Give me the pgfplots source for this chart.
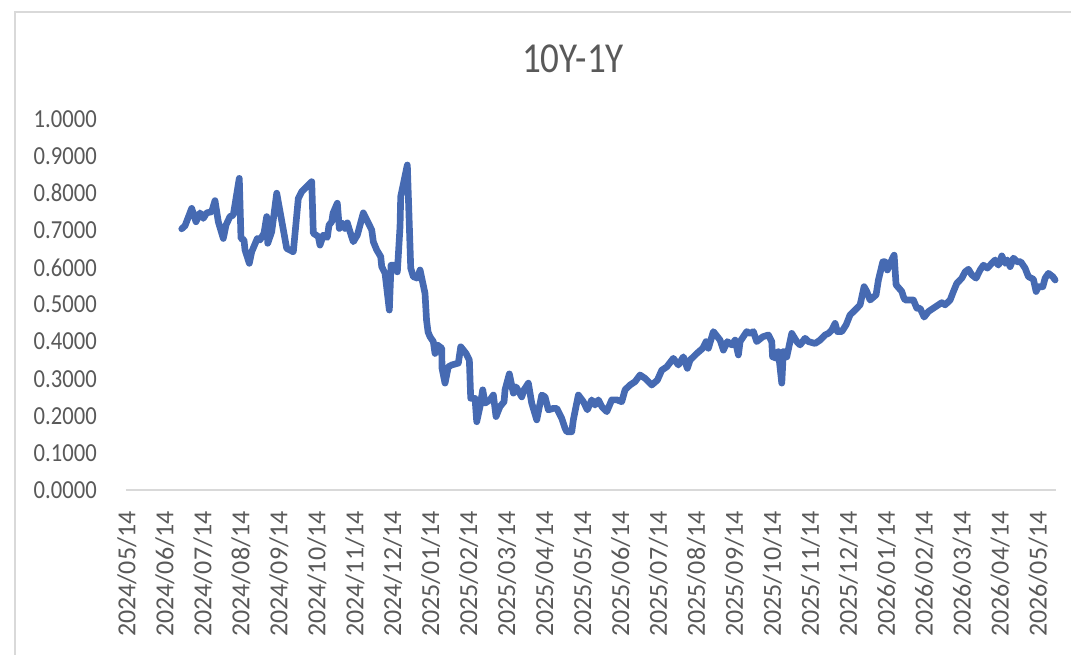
\documentclass[border=0pt]{standalone}
\usepackage{fontspec}
\setmainfont{Carlito}
\newfontfamily\squeezed[FakeStretch=0.87]{Carlito}
\usepackage{pgfplots}
\pgfplotsset{compat=1.18}
\definecolor{serie}{RGB}{70,106,178}
\definecolor{txt}{RGB}{89,89,89}
\definecolor{axl}{RGB}{217,217,217}

\begin{document}
\begin{tikzpicture}
\useasboundingbox (-94.5pt,-123.75pt) rectangle (708.75pt,367.5pt);
% chart frame (left and top edges visible)
\draw[axl, line width=1.2pt] (-83.25pt,-140pt) -- (-83.25pt,358.5pt) -- (730pt,358.5pt);
\begin{axis}[
  at={(0,0)}, anchor=south west,
  scale only axis, width=697.5pt, height=278.25pt,
  xmin=-0.026, xmax=24.47, ymin=0, ymax=1,
  axis x line*=bottom, axis y line*=left,
  separate axis lines,
  x axis line style={axl, line width=1pt, -},
  y axis line style={draw=none, -},
  tick style={draw=none},
  xtick={0,1,...,24},
  xticklabels={2024/05/14,2024/06/14,2024/07/14,2024/08/14,2024/09/14,2024/10/14,2024/11/14,2024/12/14,
    2025/01/14,2025/02/14,2025/03/14,2025/04/14,2025/05/14,2025/06/14,2025/07/14,2025/08/14,2025/09/14,
    2025/10/14,2025/11/14,2025/12/14,2026/01/14,2026/02/14,2026/03/14,2026/04/14,2026/05/14},
  ytick={0,0.1,...,1.0},
  yticklabels={0.0000,0.1000,0.2000,0.3000,0.4000,0.5000,0.6000,0.7000,0.8000,0.9000,1.0000},
  xticklabel style={rotate=90, anchor=east, inner sep=0pt, txt, font=\fontsize{19.5}{22}\selectfont},
  xticklabel shift=15.75pt,
  yticklabel style={anchor=east, inner sep=0pt, txt, font=\squeezed\fontsize{19.5}{22}\selectfont},
  yticklabel shift=21.75pt,
  clip=false,
]
\addplot[serie, line width=5pt, line join=round, line cap=round] coordinates {
(1.441,0.704)(1.528,0.712)(1.704,0.759)(1.818,0.723)(1.923,0.747)(2.010,0.732)(2.100,0.747)(2.231,0.750)
(2.318,0.780)(2.405,0.723)(2.537,0.678)(2.608,0.714)(2.713,0.737)(2.800,0.741)(2.958,0.840)(3.003,0.678)
(3.082,0.674)(3.109,0.647)(3.222,0.611)(3.285,0.642)(3.433,0.678)(3.504,0.674)(3.609,0.692)(3.680,0.737)
(3.707,0.665)(3.812,0.696)(3.944,0.800)(4.207,0.651)(4.381,0.642)(4.513,0.786)(4.602,0.804)(4.866,0.831)
(4.908,0.692)(5.040,0.683)(5.084,0.660)(5.171,0.687)(5.277,0.681)(5.321,0.714)(5.393,0.723)(5.427,0.746)
(5.540,0.773)(5.593,0.705)(5.682,0.719)(5.743,0.705)(5.804,0.720)(5.875,0.696)(5.962,0.669)(6.067,0.687)
(6.225,0.747)(6.446,0.701)(6.489,0.669)(6.578,0.647)(6.683,0.629)(6.710,0.602)(6.797,0.584)(6.910,0.485)
(6.955,0.606)(7.087,0.606)(7.121,0.588)(7.192,0.710)(7.210,0.791)(7.384,0.876)(7.474,0.598)(7.542,0.575)
(7.648,0.571)(7.719,0.593)(7.850,0.530)(7.890,0.458)(7.930,0.426)(7.982,0.413)(8.069,0.400)(8.114,0.368)
(8.175,0.391)(8.290,0.382)(8.298,0.328)(8.377,0.288)(8.464,0.332)(8.554,0.337)(8.728,0.342)(8.791,0.386)
(8.931,0.368)(9.018,0.350)(9.054,0.247)(9.168,0.247)(9.212,0.184)(9.299,0.225)(9.370,0.270)(9.431,0.234)
(9.563,0.243)(9.650,0.256)(9.721,0.198)(9.826,0.225)(9.932,0.238)(9.958,0.270)(10.071,0.313)(10.177,0.261)
(10.248,0.278)(10.398,0.251)(10.458,0.270)(10.572,0.288)(10.661,0.234)(10.793,0.189)(10.925,0.256)(11.012,0.251)
(11.099,0.216)(11.230,0.220)(11.320,0.220)(11.451,0.193)(11.539,0.166)(11.583,0.157)(11.715,0.157)(11.757,0.189)
(11.889,0.256)(12.021,0.238)(12.126,0.216)(12.242,0.243)(12.329,0.229)(12.416,0.243)(12.505,0.225)(12.637,0.211)
(12.769,0.243)(12.900,0.243)(13.032,0.238)(13.119,0.270)(13.251,0.283)(13.383,0.292)(13.514,0.310)(13.646,0.301)
(13.822,0.283)(13.970,0.296)(14.086,0.323)(14.218,0.332)(14.391,0.355)(14.523,0.337)(14.655,0.359)(14.760,0.328)
(14.831,0.350)(15.008,0.368)(15.166,0.382)(15.253,0.400)(15.314,0.382)(15.445,0.427)(15.622,0.404)(15.709,0.377)
(15.814,0.400)(15.930,0.391)(16.017,0.404)(16.104,0.364)(16.149,0.400)(16.325,0.427)(16.412,0.422)(16.499,0.427)
(16.588,0.400)(16.746,0.413)(16.894,0.418)(16.983,0.400)(17.005,0.359)(17.115,0.355)(17.157,0.373)(17.247,0.288)
(17.289,0.373)(17.379,0.359)(17.510,0.422)(17.642,0.400)(17.729,0.391)(17.861,0.409)(17.948,0.400)(18.124,0.395)
(18.256,0.404)(18.388,0.418)(18.475,0.422)(18.564,0.431)(18.651,0.449)(18.712,0.427)(18.828,0.427)(18.941,0.445)
(19.046,0.472)(19.178,0.485)(19.310,0.499)(19.415,0.548)(19.486,0.535)(19.573,0.512)(19.731,0.526)(19.792,0.566)
(19.908,0.615)(19.968,0.615)(20.029,0.593)(20.100,0.611)(20.206,0.633)(20.258,0.553)(20.409,0.535)(20.451,0.521)
(20.496,0.512)(20.714,0.512)(20.804,0.490)(20.890,0.490)(20.996,0.466)(21.109,0.481)(21.241,0.490)(21.372,0.499)
(21.462,0.505)(21.549,0.499)(21.681,0.512)(21.768,0.535)(21.857,0.557)(21.989,0.571)(22.076,0.588)(22.163,0.595)
(22.252,0.580)(22.365,0.571)(22.471,0.593)(22.558,0.606)(22.663,0.598)(22.779,0.611)(22.866,0.620)(22.953,0.606)
(23.043,0.631)(23.130,0.611)(23.190,0.620)(23.262,0.602)(23.348,0.625)(23.454,0.615)(23.543,0.615)(23.656,0.598)
(23.743,0.575)(23.875,0.568)(23.946,0.535)(24.007,0.548)(24.123,0.548)(24.183,0.571)(24.270,0.584)(24.386,0.575)
(24.447,0.566)
};
\end{axis}
\node[txt, inner sep=0pt, font=\squeezed\fontsize{32}{36}\selectfont] at (335.25pt,323.25pt) {10Y-1Y};
\end{tikzpicture}
\end{document}
